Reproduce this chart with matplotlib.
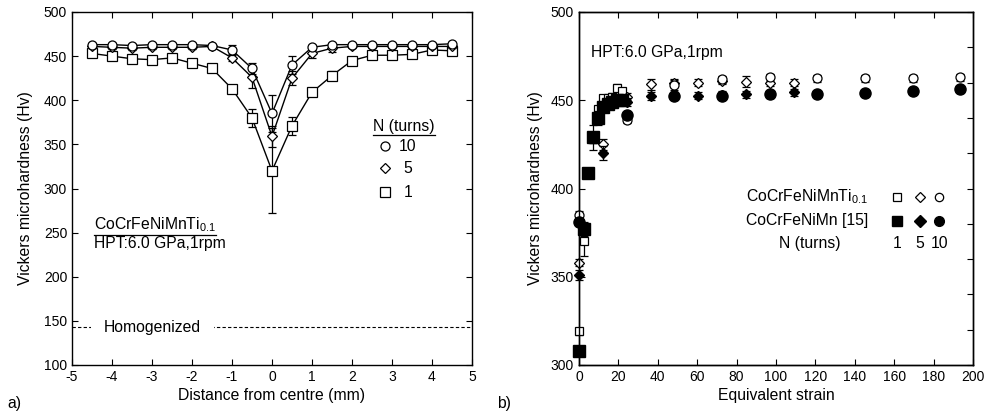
import numpy as np
import matplotlib.pyplot as plt
from matplotlib.lines import Line2D

plt.rcParams['font.family'] = ['Liberation Sans', 'DejaVu Sans']
plt.rcParams['mathtext.fontset'] = 'custom'
plt.rcParams['mathtext.rm'] = 'Liberation Sans'
plt.rcParams['axes.unicode_minus'] = False

# -----------------------------
# a) hardness across the disc
# -----------------------------
pos = [-4.5, -4.0, -3.5, -3.0, -2.5, -2.0, -1.5, -1.0, -0.5, 0.0,
       0.5, 1.0, 1.5, 2.0, 2.5, 3.0, 3.5, 4.0, 4.5]
hv_n10 = [463, 463, 462, 463, 463, 463, 462, 457, 436, 385,
          440, 460, 463, 463, 463, 463, 463, 463, 464]
err_n10 = [2, 2, 2, 2, 2, 2, 2, 6, 6, 21, 10, 3, 2, 2, 2, 2, 2, 2, 2]
hv_n5 = [461, 460, 459, 460, 460, 460, 461, 448, 426, 359,
         425, 453, 459, 461, 461, 461, 461, 461, 461]
err_n5 = [2, 2, 2, 2, 2, 2, 2, 4, 12, 12, 8, 5, 4, 2, 2, 2, 2, 2, 2]
hv_n1 = [453, 450, 447, 446, 448, 442, 436, 413, 380, 320,
         371, 409, 428, 445, 451, 451, 452, 457, 456]
err_n1 = [2, 2, 2, 2, 2, 2, 2, 2, 10, 48, 10, 2, 5, 2, 2, 2, 2, 2, 2]
hv_homog = 143

# -----------------------------
# b) hardness vs equivalent strain
# -----------------------------
strain_n1 = [0, 2.4, 4.8, 7.3, 9.7, 12.1, 14.5, 16.9, 19.4, 21.8]
strain_n5 = [0, 12.1, 24.2, 36.3, 48.4, 60.5, 72.6, 84.7, 96.8, 108.9]
strain_n10 = [0, 24.2, 48.4, 72.6, 96.8, 121.0, 145.2, 169.4, 193.6]

ti_n1 = [319, 370, 409, 428, 445, 451, 451, 452, 457, 455]
ti_n1_err = [2, 8, 2, 2, 2, 2, 2, 2, 2, 2]
ti_n5 = [358, 425, 452, 459, 460, 460, 461, 460.5, 460, 460]
ti_n5_err = [2, 3, 2, 3, 2, 2, 2, 3, 2, 2]
ti_n10 = [385, 439, 458.6, 462, 463, 462.4, 462.4, 462.4, 463]
ti_n10_err = [2, 2, 3, 2, 2, 2, 2, 2, 2]

ref_n1 = [308, 377, 409, 429, 440, 446, 448, 449, 450, 450]
ref_n1_err = [2, 4, 2, 7, 4, 2, 2, 2, 2, 2]
ref_n5 = [351, 420, 449, 452.4, 452.5, 452.6, 453, 453.4, 453.5, 454.5]
ref_n5_err = [3, 4, 2, 2, 2, 2, 2, 2, 2, 2]
ref_n10 = [381, 441.6, 452.6, 452.6, 453.4, 453.6, 454.3, 455.4, 456.2]

fig = plt.figure(figsize=(9.84, 4.16), dpi=100)
ax1 = fig.add_axes([72 / 984, 51 / 416, 400 / 984, 353 / 416])
ax2 = fig.add_axes([579 / 984, 51 / 416, 394 / 984, 353 / 416])

fs_tick = 10
fs_lab = 11.3

open_kw = dict(mfc='white', mec='black', mew=0.9, color='black')
eb_kw = dict(ecolor='black', elinewidth=0.9, capsize=3, capthick=0.9)

# ---- left panel ----
ax1.axhline(hv_homog, color='black', lw=0.8, ls=(0, (3, 2)))
ax1.text(-4.2, hv_homog, 'Homogenized', fontsize=fs_lab, va='center', ha='left',
         bbox=dict(facecolor='white', edgecolor='none', boxstyle='square,pad=0.8'))

ax1.errorbar(pos, hv_n1, yerr=err_n1, marker='s', ms=6.5, lw=1.0, zorder=3, **open_kw, **eb_kw)
ax1.errorbar(pos, hv_n5, yerr=err_n5, marker='D', ms=5.5, lw=1.0, zorder=4, **open_kw, **eb_kw)
ax1.errorbar(pos, hv_n10, yerr=err_n10, marker='o', ms=6.5, lw=1.0, zorder=5, **open_kw, **eb_kw)

ax1.set_xlim(-5, 5)
ax1.set_ylim(100, 500)
ax1.set_xticks(np.arange(-5, 6, 1))
ax1.set_yticks(np.arange(100, 501, 50))
ax1.set_xlabel('Distance from centre (mm)', fontsize=fs_lab, labelpad=3)
ax1.set_ylabel('Vickers microhardness (Hv)', fontsize=fs_lab, labelpad=8)

# legend of panel a
leg_title = ax1.text(0.7525, 0.676, 'N (turns)', transform=ax1.transAxes,
                     fontsize=fs_lab, va='center', ha='left')
for yy, mk, ms, lab in [(0.620, 'o', 6.5, '10'), (0.558, 'D', 5.5, '5'), (0.490, 's', 6.5, '1')]:
    ax1.plot([0.7825], [yy], marker=mk, ms=ms, transform=ax1.transAxes, ls='none', **open_kw)
    ax1.text(0.84, yy, lab, transform=ax1.transAxes, fontsize=fs_lab, va='center', ha='center')

alloy_a = ax1.text(0.055, 0.397, r'CoCrFeNiMnTi$_{0.1}$', transform=ax1.transAxes,
                   fontsize=fs_lab, va='center', ha='left')
ax1.text(0.055, 0.344, 'HPT:6.0 GPa,1rpm', transform=ax1.transAxes,
         fontsize=fs_lab, va='center', ha='left')

# ---- right panel ----
ax2.errorbar(strain_n1, ti_n1, yerr=ti_n1_err, marker='s', ms=6, ls='none', zorder=3,
             clip_on=False, **open_kw, **eb_kw)
ax2.errorbar(strain_n5, ti_n5, yerr=ti_n5_err, marker='D', ms=5, ls='none', zorder=3,
             clip_on=False, **open_kw, **eb_kw)
ax2.errorbar(strain_n10, ti_n10, yerr=ti_n10_err, marker='o', ms=6.5, ls='none', zorder=3,
             clip_on=False, **open_kw, **eb_kw)
ax2.errorbar(strain_n1, ref_n1, yerr=ref_n1_err, marker='s', ms=8, ls='none', color='black',
             mfc='black', mec='black', zorder=4, clip_on=False, **eb_kw)
ax2.errorbar(strain_n5, ref_n5, yerr=ref_n5_err, marker='D', ms=5.5, ls='none', color='black',
             mfc='black', mec='black', zorder=4, clip_on=False, **eb_kw)
ax2.plot(strain_n10, ref_n10, marker='o', ms=8, ls='none', color='black', zorder=4, clip_on=False)

ax2.set_xlim(0, 200)
ax2.set_ylim(300, 500)
ax2.set_xticks(np.arange(0, 201, 20))
ax2.set_yticks(np.arange(300, 501, 50))
ax2.set_xlabel('Equivalent strain', fontsize=fs_lab, labelpad=3)
ax2.set_ylabel('Vickers microhardness (Hv)', fontsize=fs_lab, labelpad=6)

ax2r = ax2.twinx()
ax2r.set_ylim(300, 500)
ax2r.set_yticks(np.arange(300, 501, 20))
ax2r.tick_params(axis='y', direction='in', labelright=False, length=4, width=0.8)

ax2.text(0.03, 0.884, 'HPT:6.0 GPa,1rpm', transform=ax2.transAxes,
         fontsize=fs_lab, va='center', ha='left')
ax2.text(0.733, 0.476, r'CoCrFeNiMnTi$_{0.1}$', transform=ax2.transAxes,
         fontsize=fs_lab, va='center', ha='right')
ax2.text(0.733, 0.408, 'CoCrFeNiMn [15]', transform=ax2.transAxes,
         fontsize=fs_lab, va='center', ha='right')
ax2.text(0.586, 0.343, 'N (turns)', transform=ax2.transAxes,
         fontsize=fs_lab, va='center', ha='center')
for xx, mk, ms, lab in [(0.807, 's', 6, '1'), (0.866, 'D', 5, '5'), (0.914, 'o', 6, '10')]:
    ax2.plot([xx], [0.476], marker=mk, ms=ms, transform=ax2.transAxes, ls='none', **open_kw)
    ax2.plot([xx], [0.408], marker=mk, ms=ms + 1, transform=ax2.transAxes, ls='none', color='black')
    ax2.text(xx, 0.343, lab, transform=ax2.transAxes, fontsize=fs_lab, va='center', ha='center')

for ax in (ax1, ax2):
    ax.tick_params(direction='in', top=True, right=(ax is ax1), length=4, width=0.8,
                   labelsize=fs_tick)
    for sp in ax.spines.values():
        sp.set_linewidth(1.0)
for sp in ax2r.spines.values():
    sp.set_linewidth(1.0)

fig.text(0.008, 0.03, 'a)', fontsize=fs_lab, va='center', ha='left')
fig.text(0.505, 0.03, 'b)', fontsize=fs_lab, va='center', ha='left')

# underline the legend title and alloy name in panel a
fig.canvas.draw()
r = fig.canvas.get_renderer()
for t in (leg_title, alloy_a):
    bb = t.get_window_extent(renderer=r)
    yline = bb.y0 - 1
    fig.add_artist(Line2D([bb.x0 / fig.bbox.width, bb.x1 / fig.bbox.width],
                          [yline / fig.bbox.height, yline / fig.bbox.height],
                          color='black', lw=0.9))

fig.savefig('out.png', dpi=100)
